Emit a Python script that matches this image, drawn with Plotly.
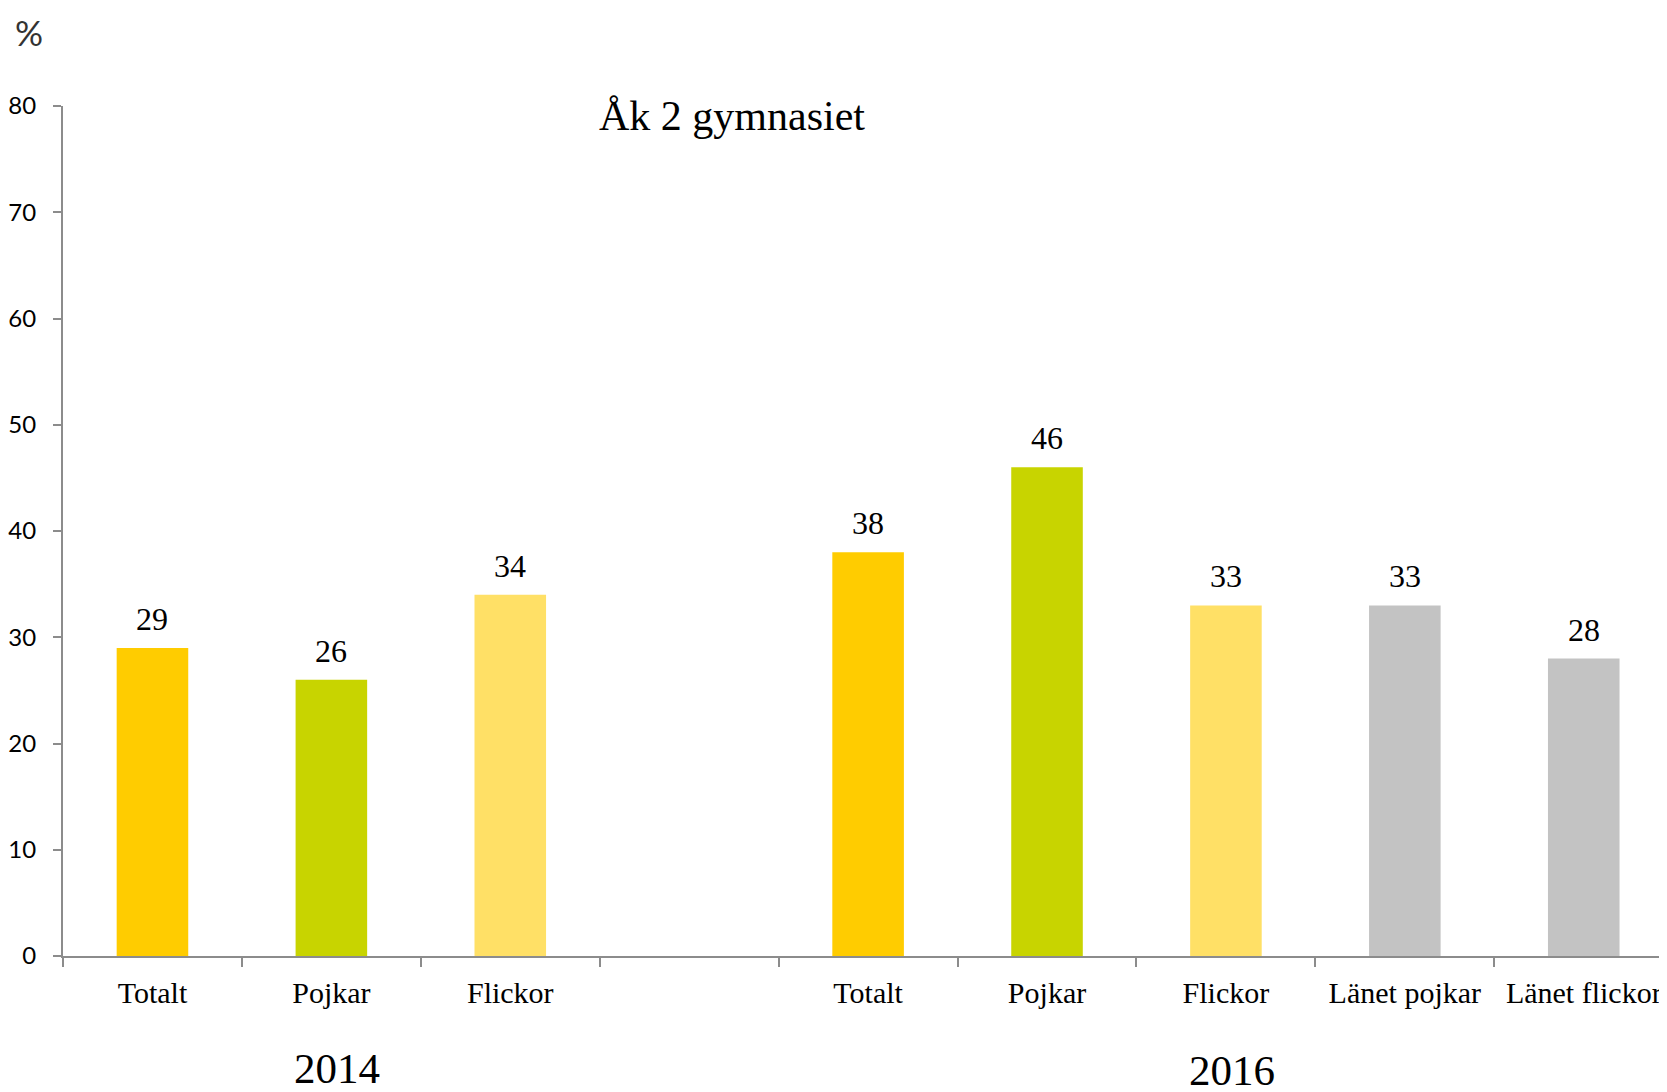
"""Bar chart: Åk 2 gymnasiet, 2014 vs 2016."""

import plotly.graph_objects as go

# data
labels = ["Totalt", "Pojkar", "Flickor", "", "Totalt", "Pojkar", "Flickor",
          "Länet pojkar", "Länet flickor"]
values = [29, 26, 34, None, 38, 46, 33, 33, 28]
colors = ["#FFCC00", "#C8D400", "#FFE066", "#FFFFFF", "#FFCC00", "#C8D400",
          "#FFE066", "#C3C3C3", "#C3C3C3"]
years = ["2014", "2016"]
year_centers = [1, 6]
year_y = [-0.132, -0.135]
y_ticks = [0, 10, 20, 30, 40, 50, 60, 70, 80]

positions = list(range(len(labels)))
boundaries = [p - 0.5 for p in positions]
serif = "Liberation Serif, Times New Roman, serif"
sans = "Lato, Open Sans, sans-serif"
axis_gray = "#8C8C8C"

figure = go.Figure(
    data=[
        go.Bar(
            x=positions,
            y=values,
            width=0.4,
            marker={"color": colors, "line": {"width": 0}},
            hoverinfo="skip",
        )
    ]
)

annotations = []
for pos, value in zip(positions, values):
    if value is None:
        continue
    annotations.append(
        dict(x=pos, y=value, xref="x", yref="y", text=str(value), showarrow=False,
             yanchor="bottom", yshift=9, font={"family": serif, "size": 32, "color": "#000"})
    )
for year, cx, cy in zip(years, year_centers, year_y):
    annotations.append(
        dict(x=cx, y=cy, xref="x", yref="paper", text=year, showarrow=False,
             xshift=6, yanchor="middle", font={"family": serif, "size": 43, "color": "#000"})
    )
annotations.append(
    dict(x=-0.021, y=1 + 97 / 850, xref="paper", yref="paper", text="%", showarrow=False,
         xanchor="center", yanchor="top",
         font={"family": sans, "size": 35, "color": "#333"})
)

# the page body adds an 8px offset, so margins are set 8px short
figure.update_layout(
    width=1667,
    height=1092,
    margin={"l": 55, "r": 0, "t": 98, "b": 144},
    paper_bgcolor="#ffffff",
    plot_bgcolor="#ffffff",
    showlegend=False,
    title={
        "text": "Åk 2 gymnasiet",
        "x": 0.415,
        "xref": "paper",
        "xanchor": "center",
        "y": 0.902,
        "yanchor": "middle",
        "font": {"family": serif, "size": 42, "color": "#000"},
    },
    annotations=annotations,
)
figure.update_xaxes(
    range=[-0.5, 8.51],
    tickvals=positions,
    ticktext=labels,
    ticks="outside",
    ticklen=0,
    ticklabelstandoff=9,
    tickfont={"family": serif, "size": 30, "color": "#000"},
    minor={"tickvals": boundaries, "ticks": "outside", "ticklen": 9,
           "tickcolor": axis_gray, "tickwidth": 2},
    showline=True,
    linecolor=axis_gray,
    linewidth=2,
    showgrid=False,
    zeroline=False,
    fixedrange=True,
)
figure.update_yaxes(
    range=[0, 80],
    tickvals=y_ticks,
    ticks="outside",
    ticklen=8,
    tickcolor=axis_gray,
    tickwidth=2,
    ticklabelstandoff=12,
    tickfont={"family": sans, "size": 24, "color": "#000"},
    showline=True,
    linecolor=axis_gray,
    linewidth=2,
    showgrid=False,
    zeroline=False,
    fixedrange=True,
)

figure.write_html("out.html")
